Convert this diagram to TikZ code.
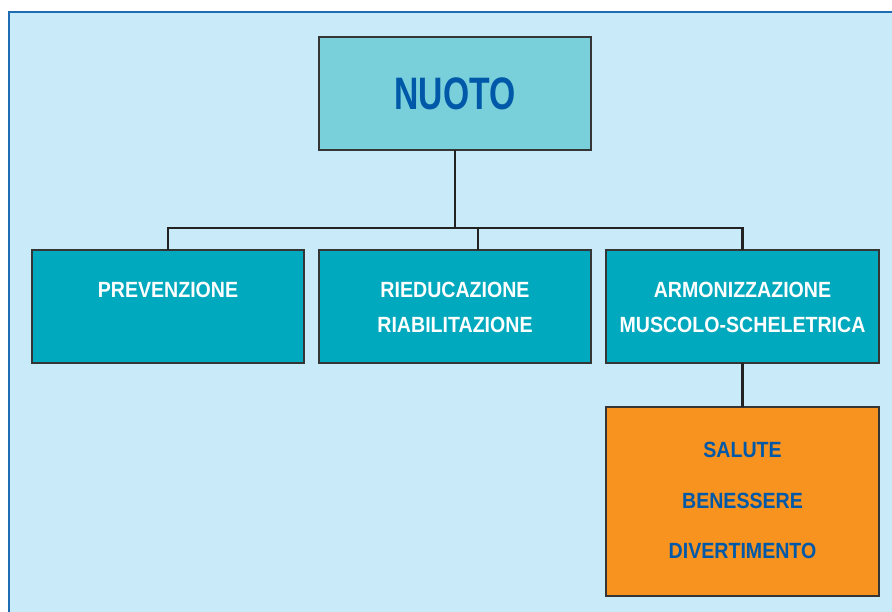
\documentclass[tikz,border=0pt]{standalone}
\usepackage{fontspec}
\newfontfamily\smallfont[FakeStretch=0.89]{Liberation Sans}
\newfontfamily\bigfont[FakeStretch=0.74]{Liberation Sans}
\definecolor{bgblue}{HTML}{C8EAF9}
\definecolor{framecol}{HTML}{1E6DB4}
\definecolor{topfill}{HTML}{79CFDA}
\definecolor{tealfill}{HTML}{00A9BD}
\definecolor{orangefill}{HTML}{F7931E}
\definecolor{textblue}{HTML}{0059A8}
\definecolor{boxline}{HTML}{353535}
\definecolor{connline}{HTML}{222222}
\tikzset{
  box/.style={draw=boxline, line width=1.4pt, inner sep=0pt, minimum width=272pt, minimum height=113pt},
  tealbox/.style={box, fill=tealfill},
  lbl/.style={inner sep=0pt, align=center, text=white, font=\smallfont\bfseries\fontsize{22}{35.6}\selectfont},
  olbl/.style={inner sep=0pt, align=center, text=textblue, font=\smallfont\bfseries\fontsize{22}{50.75}\selectfont},
  conn/.style={draw=connline, line width=2.2pt, line cap=rect, line join=miter}
}
\begin{document}
\begin{tikzpicture}[x=1pt,y=-1pt]
\useasboundingbox (0,0) rectangle (892,612);
\fill[white] (0,0) rectangle (892,612);
\fill[bgblue] (9,12) rectangle (892,612);
\draw[framecol, line width=1.6pt] (9,613) -- (9,12) -- (893,12);

% boxes
\node[box, fill=topfill] (nuoto) at (455,93.5) {};
\node[tealbox] (prev) at (168,306.5) {};
\node[tealbox] (ried) at (455,306.5) {};
\node[tealbox, minimum width=273pt] (armo) at (742.5,306.5) {};
\node[box, fill=orangefill, minimum width=273pt, minimum height=189pt] (sal) at (742.5,501.5) {};

% texts
\node[inner sep=0pt, text=textblue, font=\bigfont\bfseries\fontsize{45.5}{50}\selectfont] (tnuoto) at (455,93.5) {NUOTO};
\node[lbl] (tprev) at (168,290) {PREVENZIONE};
\node[lbl] (tried) at (455,307.5) {RIEDUCAZIONE\\RIABILITAZIONE};
\node[lbl] (tarmo) at (742.5,307.5) {ARMONIZZAZIONE\\MUSCOLO-SCHELETRICA};
\node[olbl] (tsal) at (742.5,500.5) {SALUTE\\BENESSERE\\DIVERTIMENTO};

% connectors
\coordinate (j) at (455,228);
\coordinate (jl) at (168,228);
\coordinate (jr) at (742.5,228);
\coordinate (jm) at (478,228);
\draw[conn] (nuoto.south) -- (j);
\draw[conn] (prev.north) -- (jl) -- (jr) -- (armo.north);
\draw[conn] (jm) -- (jm |- ried.north);
\draw[conn] (armo.south) -- (sal.north);
\end{tikzpicture}
\end{document}
